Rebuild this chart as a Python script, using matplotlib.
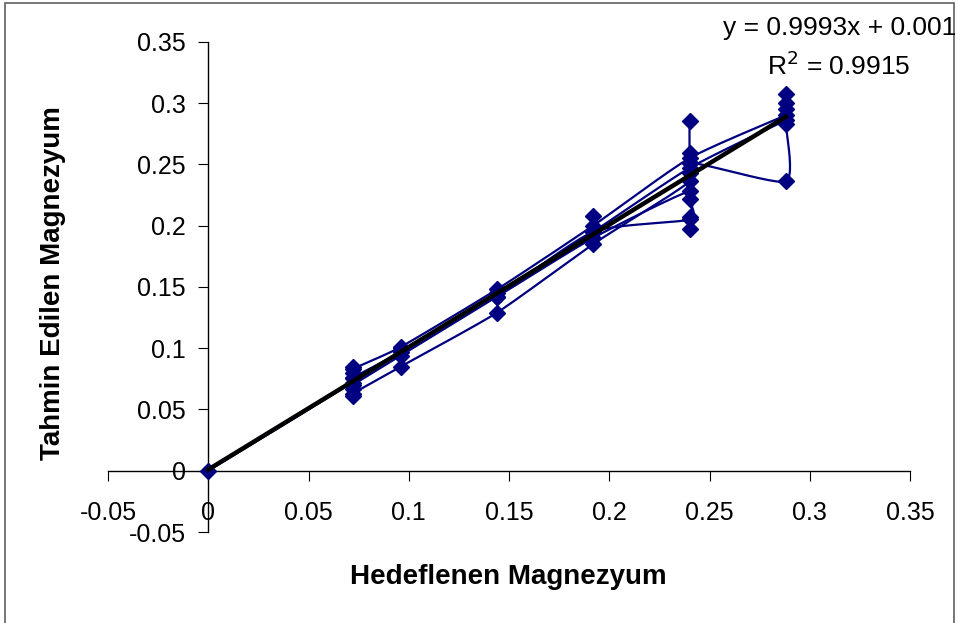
import numpy as np
import matplotlib
matplotlib.use("Agg")
import matplotlib.pyplot as plt
from matplotlib.patches import Rectangle

plt.rcParams['font.family'] = ['Liberation Sans', 'DejaVu Sans']

# ---- data ----
path1_x = [0, 0.072, 0.072, 0.072, 0.072, 0.096, 0.144, 0.192, 0.24, 0.288]
path1_y = [0, 0.072, 0.076, 0.080, 0.083, 0.101, 0.148, 0.200, 0.255, 0.290]

path2_x = [0.072, 0.096, 0.144, 0.192, 0.24, 0.288]
path2_y = [0.076, 0.097, 0.145, 0.195, 0.247, 0.286]

path3_x = [0.072, 0.096, 0.144, 0.192, 0.24, 0.24, 0.24]
path3_y = [0.070, 0.094, 0.142, 0.190, 0.228, 0.207, 0.197]

path4_x = [0.072, 0.096, 0.144, 0.192, 0.24, 0.24, 0.24]
path4_y = [0.063, 0.085, 0.129, 0.185, 0.236, 0.259, 0.285]

path5_x = [0.144, 0.192, 0.24, 0.24, 0.24, 0.288, 0.288, 0.288, 0.288, 0.288]
path5_y = [0.142, 0.195, 0.205, 0.222, 0.251, 0.236, 0.283, 0.295, 0.300, 0.307]

extra_x = [0.072, 0.072, 0.072, 0.096, 0.192, 0.24, 0.24]
extra_y = [0.085, 0.067, 0.061, 0.100, 0.208, 0.243, 0.251]

trend_slope = 0.9993
trend_intercept = 0.001
trend_x = [0, 0.288]

x_ticks = [-0.05, 0, 0.05, 0.1, 0.15, 0.2, 0.25, 0.3, 0.35]
y_ticks = [-0.05, 0, 0.05, 0.1, 0.15, 0.2, 0.25, 0.3, 0.35]

NAVY = '#000080'


def smooth(xs, ys, n=24, tension=0.6):
    pts = np.column_stack([xs, ys]).astype(float)
    if len(pts) < 3:
        return pts[:, 0], pts[:, 1]
    p = np.vstack([pts[0], pts, pts[-1]])
    out = []
    for i in range(1, len(p) - 2):
        p0, p1, p2, p3 = p[i - 1], p[i], p[i + 1], p[i + 2]
        m1 = tension * (p2 - p0) / 2
        m2 = tension * (p3 - p1) / 2
        t = np.linspace(0, 1, n, endpoint=False)[:, None]
        h00 = 2 * t ** 3 - 3 * t ** 2 + 1
        h10 = t ** 3 - 2 * t ** 2 + t
        h01 = -2 * t ** 3 + 3 * t ** 2
        h11 = t ** 3 - t ** 2
        out.append(h00 * p1 + h10 * m1 + h01 * p2 + h11 * m2)
    out.append(pts[-1][None, :])
    out = np.vstack(out)
    return out[:, 0], out[:, 1]


fig = plt.figure(figsize=(9.6, 6.23), dpi=100)
ax = fig.add_axes([0.1125, 0.146, 0.8355, 0.787])

for px, py in [(path1_x, path1_y), (path2_x, path2_y), (path3_x, path3_y),
               (path4_x, path4_y), (path5_x, path5_y)]:
    sx, sy = smooth(px, py)
    ax.plot(sx, sy, color=NAVY, lw=1.6, zorder=2)
    ax.plot(px, py, linestyle='none', marker='D', ms=8, color=NAVY, zorder=3)
ax.plot(extra_x, extra_y, linestyle='none', marker='D', ms=8, color=NAVY, zorder=3)

tx = np.array(trend_x)
ax.plot(tx, trend_slope * tx + trend_intercept, color='black', lw=3.2, zorder=4)

ax.set_xlim(-0.05, 0.35)
ax.set_ylim(-0.05, 0.35)
ax.spines['left'].set_position(('data', 0))
ax.spines['bottom'].set_position(('data', 0))
ax.spines['right'].set_visible(False)
ax.spines['top'].set_visible(False)
for s in ('left', 'bottom'):
    ax.spines[s].set_color('black')
    ax.spines[s].set_linewidth(1.0)

ax.set_xticks(x_ticks)
ax.set_yticks(y_ticks)
ax.set_xticklabels([f'{v:g}' for v in x_ticks])
ax.set_yticklabels([f'{v:g}' for v in y_ticks])
ax.tick_params(axis='x', direction='out', length=7, pad=15, labelsize=18)
ax.tick_params(axis='y', direction='out', length=7, pad=9, labelsize=18)

fig.text(0.529, 0.074, 'Hedeflenen Magnezyum', ha='center', va='center',
         fontsize=20, fontweight='bold')
fig.text(0.055, 0.545, 'Tahmin Edilen Magnezyum', ha='center', va='center',
         rotation=90, fontsize=20, fontweight='bold')

fig.text(0.996, 0.955, 'y = 0.9993x + 0.001', ha='right', va='center', fontsize=19)
fig.text(0.948, 0.895, r'R$^2$ = 0.9915', ha='right', va='center', fontsize=19)

fig.patches.append(Rectangle((5 / 960, -0.01), 949 / 960, 1 - 3 / 623 + 0.01,
                             transform=fig.transFigure, fill=False,
                             edgecolor='#606060', lw=1.2))

fig.savefig('out.png', dpi=100)
